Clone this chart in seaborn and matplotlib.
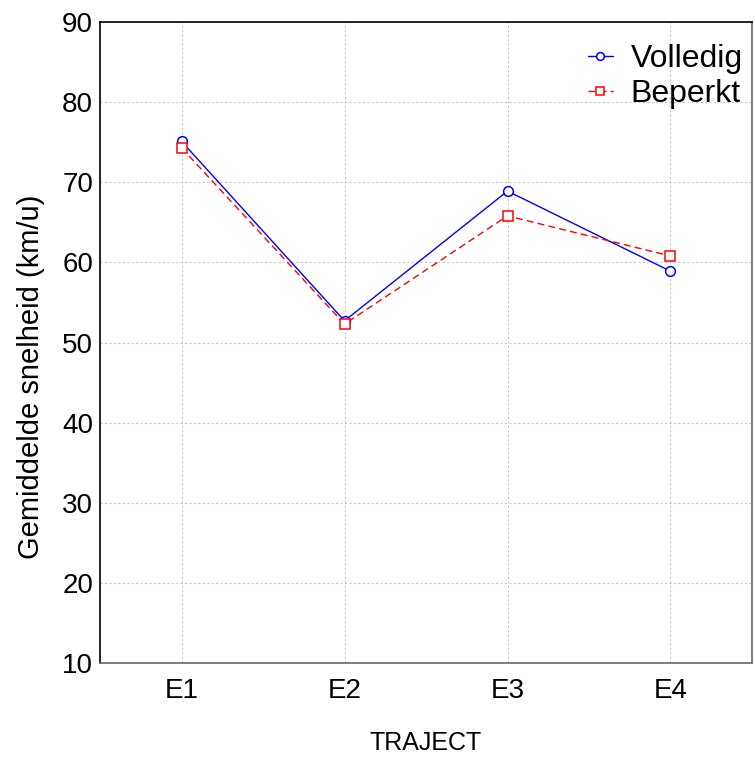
import numpy as np
import pandas as pd
import matplotlib.pyplot as plt
import seaborn as sns

trajecten = ["E1", "E2", "E3", "E4"]
volledig = [75.1, 52.7, 68.9, 58.9]
beperkt = [74.3, 52.3, 65.8, 60.8]

xpos = list(range(len(trajecten)))

sns.set_style("white")
plt.rcParams["font.family"] = ["Liberation Sans", "DejaVu Sans"]
plt.rcParams["text.color"] = "black"
plt.rcParams["xtick.color"] = "black"
plt.rcParams["ytick.color"] = "black"
plt.rcParams["axes.labelcolor"] = "black"

fig = plt.figure(figsize=(7.55, 7.58), dpi=100)
ax = fig.add_axes([0.1325, 0.1253, 0.8635, 0.8457])

sns.lineplot(x=xpos, y=volledig, color="blue", linewidth=1,
             marker="o", markersize=7, markerfacecolor="white",
             markeredgecolor="blue", markeredgewidth=1.1,
             label="Volledig", ax=ax)
sns.lineplot(x=xpos, y=beperkt, color="red", linewidth=1, linestyle=(0, (5, 3)),
             marker="s", markersize=7, markerfacecolor="white",
             markeredgecolor="red", markeredgewidth=1.1,
             label="Beperkt", ax=ax)

ax.set_xlim(-0.5, 3.5)
ax.set_ylim(10, 90)
ax.set_xticks(xpos)
ax.set_xticklabels(trajecten)
ax.set_yticks(range(10, 91, 10))
ax.grid(True, color="#c8c8c8", linestyle=(0, (2, 2)), linewidth=0.8)
ax.tick_params(labelsize=20, length=3, direction="in", color="#555555")
ax.tick_params(axis="x", pad=11)
ax.tick_params(axis="y", pad=5)
ax.spines["top"].set_color("black")
ax.spines["left"].set_color("black")
ax.spines["bottom"].set_color("#666666")
ax.spines["right"].set_color("#666666")
for s in ax.spines.values():
    s.set_linewidth(1.2)
ax.set_xlabel("TRAJECT", fontsize=18, labelpad=19)
ax.set_ylabel("Gemiddelde snelheid (km/u)", fontsize=21)
ax.yaxis.set_label_coords(-0.084, 0.446)

leg = ax.legend(loc="upper right", fontsize=23, frameon=False,
                bbox_to_anchor=(1.0055, 0.985),
                handlelength=0.8, handletextpad=0.55, borderaxespad=0,
                labelspacing=0.15, markerscale=0.8)

fig.savefig("out.png", dpi=100)
